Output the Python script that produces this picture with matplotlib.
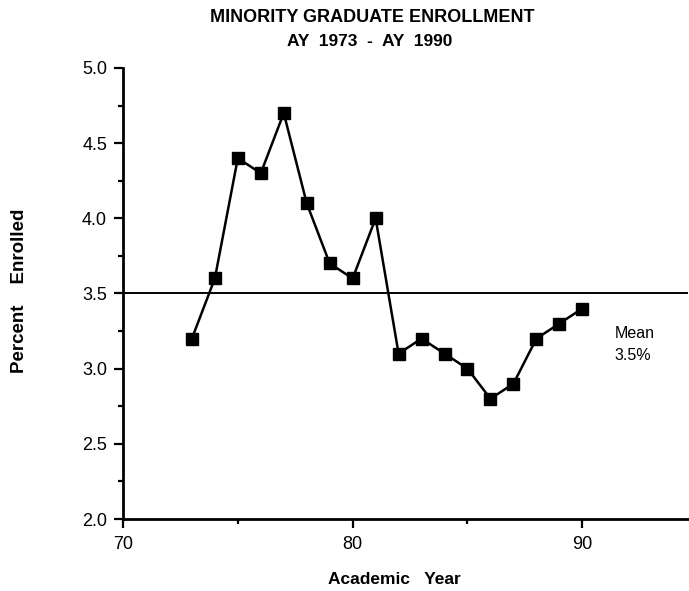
import matplotlib
matplotlib.use('Agg')
import matplotlib.pyplot as plt
from matplotlib.ticker import MultipleLocator

# academic years (19xx) and percent of minority graduate enrollment
years = [73, 74, 75, 76, 77, 78, 79, 80, 81, 82, 83, 84, 85, 86, 87, 88, 89, 90]
percent = [3.2, 3.6, 4.4, 4.3, 4.7, 4.1, 3.7, 3.6, 4.0, 3.1, 3.2, 3.1, 3.0, 2.8, 2.9, 3.2, 3.3, 3.4]
mean_value = 3.5

x_ticks = [70, 80, 90]
y_ticks = [2.0, 2.5, 3.0, 3.5, 4.0, 4.5, 5.0]
y_labels = ['2.0', '2.5', '3.0', '3.5', '4.0', '4.5', '5.0']

plt.rcParams['font.family'] = ['Liberation Sans', 'DejaVu Sans']

fig = plt.figure(figsize=(6.89, 5.91), dpi=100)
# axes spans x 123..688 px, y 68..519 px
ax = fig.add_axes([0.1785, 0.1218, 0.8200, 0.7632])

ax.plot(years, percent, marker='s', markersize=8, color='black', linewidth=1.8)
ax.axhline(mean_value, color='black', linewidth=1.4)

ax.set_xlim(70, 94.6)
ax.set_ylim(2.0, 5.0)

ax.spines['top'].set_visible(False)
ax.spines['right'].set_visible(False)
for side in ['left', 'bottom']:
    ax.spines[side].set_linewidth(2.0)

ax.set_xticks(x_ticks)
ax.set_yticks(y_ticks)
ax.set_yticklabels(y_labels)
ax.xaxis.set_minor_locator(MultipleLocator(5))
ax.yaxis.set_minor_locator(MultipleLocator(0.25))
ax.tick_params(which='major', direction='out', length=6.5, width=1.6, labelsize=13)
ax.tick_params(which='minor', direction='out', length=3.5, width=1.6)
ax.tick_params(axis='x', which='major', pad=6)
ax.tick_params(axis='y', which='major', pad=5)

# axis labels placed in figure coordinates
fig.text(394 / 689, 1 - 579 / 591, 'Academic   Year', ha='center', va='center',
         fontsize=12.5, fontweight='bold')
fig.text(20 / 689, 1 - 291 / 591, 'Percent    Enrolled', ha='center', va='center',
         rotation=90, fontsize=13.5, fontweight='bold')

fig.text(372 / 689, 1 - 18 / 591, 'MINORITY GRADUATE ENROLLMENT', ha='center', va='center',
         fontsize=13, fontweight='bold')
fig.text(370 / 689, 1 - 42 / 591, 'AY  1973  -  AY  1990', ha='center', va='center',
         fontsize=12.5, fontweight='bold')

ax.text(91.4, 3.235, 'Mean', fontsize=11.5, ha='left', va='center')
ax.text(91.4, 3.09, '3.5%', fontsize=11.5, ha='left', va='center')

plt.savefig('out.png', dpi=100)
